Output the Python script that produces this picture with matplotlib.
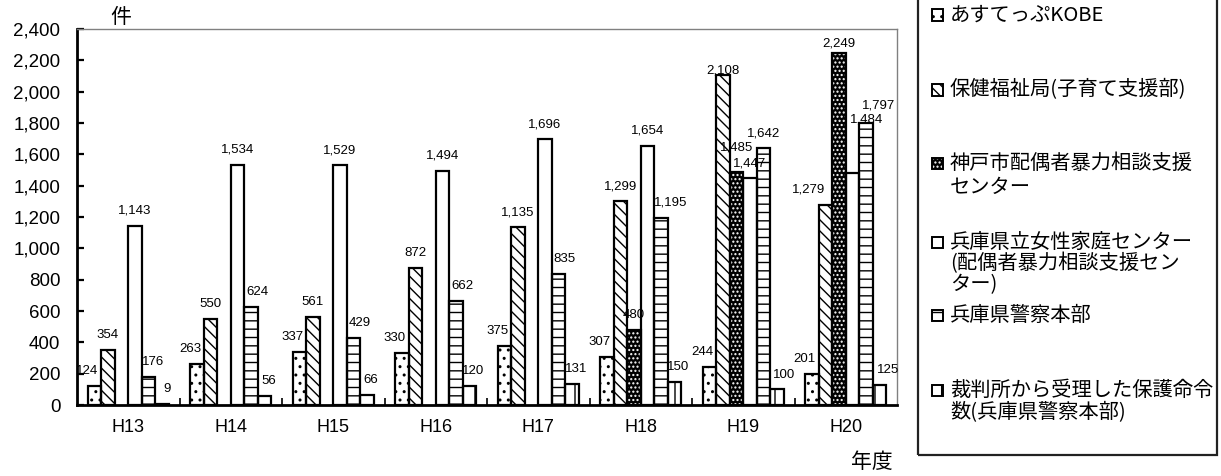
import matplotlib
matplotlib.use('Agg')
import matplotlib.pyplot as plt
from matplotlib.patches import Rectangle
import numpy as np

# ---------------- data ----------------
years = ['H13', 'H14', 'H15', 'H16', 'H17', 'H18', 'H19', 'H20']
series_names = [
    ['あすてっぷKOBE'],
    ['保健福祉局(子育て支援部)'],
    ['神戸市配偶者暴力相談支援', 'センター'],
    ['兵庫県立女性家庭センター', '(配偶者暴力相談支援セン', 'ター)'],
    ['兵庫県警察本部'],
    ['裁判所から受理した保護命令', '数(兵庫県警察本部)'],
]
asuteppu = [124, 263, 337, 330, 375, 307, 244, 201]
hoken = [354, 550, 561, 872, 1135, 1299, 2108, 1279]
kobe_center = [None, None, None, None, None, 480, 1485, 2249]
josei_center = [1143, 1534, 1529, 1494, 1696, 1654, 1447, 1484]
police = [176, 624, 429, 662, 835, 1195, 1642, 1797]
court = [9, 56, 66, 120, 131, 150, 100, 125]
yticks = [0, 200, 400, 600, 800, 1000, 1200, 1400, 1600, 1800, 2000, 2200, 2400]

all_series = [asuteppu, hoken, kobe_center, josei_center, police, court]

# ---------------- style ----------------
W, H = 1221, 476
JP = ['Noto Sans CJK JP', 'DejaVu Sans']
NUM = ['Liberation Sans', 'DejaVu Sans']
plt.rcParams['hatch.linewidth'] = 1.0

styles = [
    dict(facecolor='white', hatch='..'),
    dict(facecolor='white', hatch='\\\\\\'),
    dict(facecolor='black', hatch='....', hatchcolor='white'),
    dict(facecolor='white', hatch=''),
    dict(facecolor='white', hatch='--'),
    dict(facecolor='white', hatch='|'),
]
# label offsets in pixels: default dx per series, gap above bar
default_dx = [-7, 0, 0, 0, 6, 4]
overrides = {
    (4, 0): (5, 12), (5, 0): (5, 12),
    (1, 7): (-17, 12), (2, 6): (0, 22), (1, 6): (0, 1),
    (2, 7): (0, 6), (4, 7): (13, 15), (3, 7): (14, 50),
    (5, 7): (9, 12), (4, 5): (10, 12), (4, 6): (0, 11), (5, 6): (7, 11),
}

fig = plt.figure(figsize=(W / 100, H / 100), dpi=100)
ax = fig.add_axes([77 / W, 1 - 405 / H, (897 - 77) / W, (405 - 29) / H])

x = np.arange(len(years))
bw = 0.132
LW = 1.6


def draw_bars(ax, xs, vals, st):
    if st.get('hatchcolor'):
        ax.bar(xs, vals, bw, facecolor=st['facecolor'], edgecolor='none', linewidth=0, zorder=2)
        ax.bar(xs, vals, bw, fill=False, hatch=st['hatch'], edgecolor=st['hatchcolor'],
               linewidth=0, zorder=3)
    else:
        ax.bar(xs, vals, bw, facecolor=st['facecolor'], hatch=st['hatch'],
               edgecolor='black', linewidth=0, zorder=2)
    ax.bar(xs, vals, bw, fill=False, edgecolor='black', linewidth=LW, zorder=4)


for j, (vals, st) in enumerate(zip(all_series, styles)):
    xs = [xi + (j - 2.5) * bw for xi, v in zip(x, vals) if v is not None]
    vv = [v for v in vals if v is not None]
    draw_bars(ax, xs, vv, st)
    for i, v in enumerate(vals):
        if v is None:
            continue
        dx, gap = overrides.get((j, i), (default_dx[j], 12))
        ax.annotate(f'{v:,}', xy=(x[i] + (j - 2.5) * bw, v),
                    xytext=(dx * 0.72, gap * 0.72), textcoords='offset points',
                    ha='center', va='baseline', fontsize=9.5, family=NUM, zorder=5)

ax.set_xlim(-0.5, len(years) - 0.5)
ax.set_ylim(0, 2400)
ax.set_yticks(yticks)
ax.set_yticklabels([f'{t:,}' for t in yticks], family=NUM, fontsize=13.5)
ax.tick_params(axis='y', direction='in', length=5, width=1.6, pad=12)
ax.set_xticks(x)
ax.set_xticklabels(years, family=NUM, fontsize=13)
ax.tick_params(axis='x', which='major', length=0, pad=10)
ax.set_xticks(np.arange(0.5, len(years) - 0.5, 1.0), minor=True)
ax.tick_params(axis='x', which='minor', direction='in', length=5, width=1.2)

for s in ['top', 'right']:
    ax.spines[s].set_color('#808080')
    ax.spines[s].set_linewidth(1.0)
for s in ['left', 'bottom']:
    ax.spines[s].set_color('black')
    ax.spines[s].set_linewidth(2.0)

fig.text(121 / W, 1 - 17 / H, '件', family=JP, fontsize=15, ha='center', va='center')
fig.text(872 / W, 1 - 462 / H, '年度', family=JP, fontsize=15, ha='center', va='center')

# ---------------- legend (manual) ----------------
fig.add_artist(Rectangle((918 / W, 1 - 455 / H), (1217 - 918) / W, (457) / H,
                         transform=fig.transFigure, fill=False, edgecolor='#222222',
                         linewidth=1.6))
line_y = [[15], [90], [163, 187], [242, 263, 285], [315], [390, 413]]
for j, (lines, ys) in enumerate(zip(series_names, line_y)):
    st = styles[j]
    ix, iy, isz = 932, ys[0], 11
    rect_kw = dict(transform=fig.transFigure)
    if st.get('hatchcolor'):
        fig.add_artist(Rectangle((ix / W, 1 - (iy + isz / 2) / H), isz / W, isz / H,
                                 facecolor='black', edgecolor='none', **rect_kw))
        fig.add_artist(Rectangle((ix / W, 1 - (iy + isz / 2) / H), isz / W, isz / H,
                                 fill=False, hatch=st['hatch'], edgecolor='white',
                                 linewidth=0, **rect_kw))
    else:
        fig.add_artist(Rectangle((ix / W, 1 - (iy + isz / 2) / H), isz / W, isz / H,
                                 facecolor='white', hatch=st['hatch'], edgecolor='black',
                                 linewidth=0, **rect_kw))
    fig.add_artist(Rectangle((ix / W, 1 - (iy + isz / 2) / H), isz / W, isz / H,
                             fill=False, edgecolor='black', linewidth=1.4, **rect_kw))
    for t, yy in zip(lines, ys):
        fig.text(950 / W, 1 - yy / H, t, family=JP, fontsize=14.6, ha='left', va='center')

fig.savefig('out.png', dpi=100)
